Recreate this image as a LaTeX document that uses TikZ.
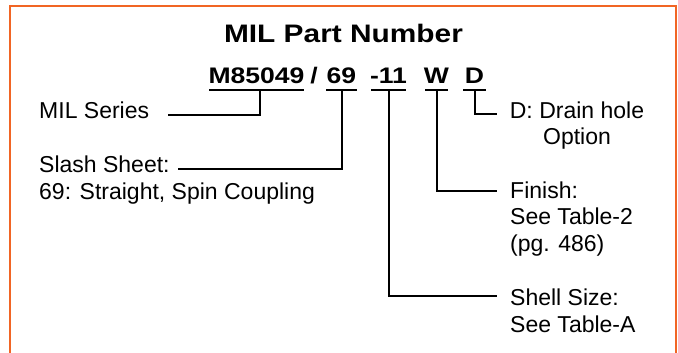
\documentclass[tikz,border=0pt]{standalone}
\usepackage{fontspec}
\setmainfont{Liberation Sans}
\newfontfamily\pnfont{Liberation Sans}[FakeStretch=1.18]
\definecolor{frameorange}{RGB}{241,101,36}
\tikzset{
  lbl/.style={anchor=base west, inner sep=0pt, font=\fontsize{23}{26}\selectfont},
  pn/.style={anchor=base, inner sep=0pt, font=\pnfont\bfseries\fontsize{22.5}{27}\selectfont},
  lead/.style={black, line width=1.4pt},
}
\begin{document}
\begin{tikzpicture}[x=1pt, y=-1pt]
\useasboundingbox (0,0) rectangle (678,353);

% frame, open at the bottom
\draw[frameorange, line width=2pt] (10,353) -- (10,6) -- (676,6) -- (676,353);

\node[pn, font=\pnfont\bfseries\fontsize{25.3}{30}\selectfont] (title) at (343.5,43) {MIL Part Number};

% part number groups, underlined
\foreach \nm/\txt/\xc/\xa/\xb/\xv in {ser/M85049/256.5/209/304/260, sh/69/341.5/326/357/342, sz/-11/388.5/371/406/389, fin/W/436.5/425/448/437, dr/D/474.5/463/486/475} {
  \node[pn] (\nm) at (\xc,84) {\txt};
  \draw[lead] (\xa,90) -- (\xb,90);
  \coordinate (\nm-u) at (\xv,90);
}
\node[pn] (slash) at (314,84) {/};

% labels
\node[lbl] (series) at (39,118) {MIL Series};
\node[lbl] (slashA) at (39,172) {Slash Sheet:};
\node[lbl] (slashB) at (39,199) {69: Straight, Spin Coupling};
\node[lbl, anchor=base] (drainA) at (577,118) {D: Drain hole};
\node[lbl, anchor=base] (drainB) at (577,144) {Option};
\node[lbl] (finA) at (510,198) {Finish:};
\node[lbl] (finB) at (510,224) {See Table-2};
\node[lbl] (finC) at (510,251) {(pg. 486)};
\node[lbl] (sizeA) at (510,305) {Shell Size:};
\node[lbl] (sizeB) at (510,332) {See Table-A};

% leader lines
\coordinate (ser-e) at (168,115);
\coordinate (sh-e) at (178,169);
\coordinate (sz-e) at (497,296);
\coordinate (fin-e) at (497,191);
\coordinate (dr-e) at (497,114);
\foreach \nm in {ser,sh,sz,fin,dr}
  \draw[lead] (\nm-u) |- (\nm-e);
\end{tikzpicture}
\end{document}
